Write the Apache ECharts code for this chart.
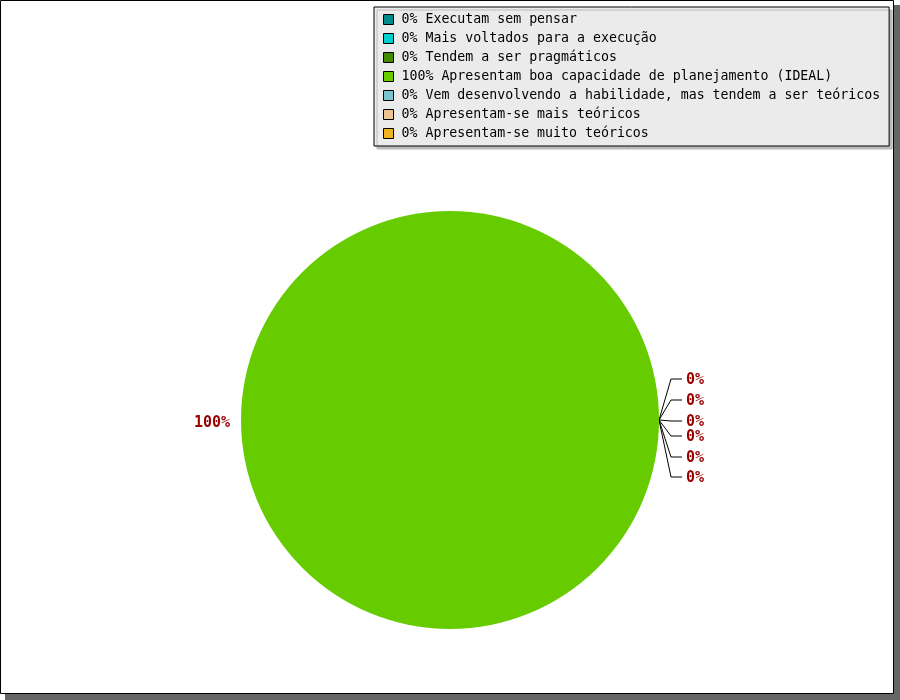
<!DOCTYPE html>
<html>
<head>
<meta charset="utf-8">
<script src="https://cdn.jsdelivr.net/npm/echarts@6/dist/echarts.min.js"></script>
<style>
html,body{margin:0;padding:0;background:#fff;}
#chart{width:900px;height:700px;}
</style>
</head>
<body>
<div id="chart"></div>
<script>
const categories = [
  'Executam sem pensar',
  'Mais voltados para a execução',
  'Tendem a ser pragmáticos',
  'Apresentam boa capacidade de planejamento (IDEAL)',
  'Vem desenvolvendo a habilidade, mas tendem a ser teóricos',
  'Apresentam-se mais teóricos',
  'Apresentam-se muito teóricos'
];
const values = [0, 0, 0, 100, 0, 0, 0];
const colors = ['#008B8B', '#00CED1', '#458B00', '#66CC00', '#7AC5CD', '#EEC591', '#EEB422'];

const total = values.reduce((a, b) => a + b, 0);
const pct = v => total ? Math.round(v / total * 100) : 0;

// vertical offsets (px) for stacked labels of zero-size slices, in order of appearance
const zeroLabelOffsets = [-41, -20, 1, 16, 37, 57];
const zeroOrder = {};
let zc = 0;
values.forEach((v, i) => { if (v === 0) zeroOrder[i] = zc++; });

const chart = echarts.init(document.getElementById('chart'), null, {renderer: 'canvas'});

const option = {
  animation: false,
  graphic: [
    {type: 'rect', z: 0, shape: {x: 5, y: 5, width: 895, height: 695}, style: {fill: '#666666'}},
    {type: 'rect', z: 1, shape: {x: 0.5, y: 0.5, width: 893, height: 693}, style: {fill: '#ffffff', stroke: '#000000', lineWidth: 1}}
  ],
  legend: {
    orient: 'vertical',
    left: 374,
    top: 7,
    padding: [3, 9, 3, 9],
    itemGap: 0,
    itemWidth: 10,
    itemHeight: 10,
    icon: 'rect',
    backgroundColor: '#EBEBEB',
    borderColor: '#000',
    borderWidth: 1,
    shadowColor: '#BBBBBB',
    shadowBlur: 0,
    shadowOffsetX: 3,
    shadowOffsetY: 3,
    selectedMode: false,
    itemStyle: {borderColor: '#000', borderWidth: 1},
    textStyle: {
      fontFamily: 'DejaVu Sans Mono',
      fontSize: 13.25,
      color: '#000',
      lineHeight: 19,
      padding: [0, 0, 0, 3]
    },
    formatter: function (name) {
      const i = categories.indexOf(name);
      return pct(values[i]) + '% ' + name;
    },
    data: categories
  },
  series: [{
    type: 'pie',
    center: [450, 420],
    radius: 209,
    startAngle: 0,
    clockwise: false,
    avoidLabelOverlap: false,
    minShowLabelAngle: 0,
    stillShowZeroSum: true,
    emphasis: {disabled: true},
    silent: true,
    label: {
      show: true,
      position: 'outside',
      fontFamily: 'DejaVu Sans Mono',
      fontWeight: 'bold',
      fontSize: 15,
      color: '#990000',
      formatter: p => pct(p.value) + '%'
    },
    labelLine: {show: true, length: 12, length2: 11, lineStyle: {color: '#000', width: 1}},
    labelLayout: function (params) {
      const i = params.dataIndex;
      const pts = params.labelLinePoints;
      const ax = pts ? pts[0][0] : params.rect.x + params.rect.width;
      const ay = pts ? pts[0][1] : params.rect.y + params.rect.height / 2;
      if (values[i] === 0) {
        const off = zeroLabelOffsets[zeroOrder[i]] || 0;
        return {
          x: ax + 27, y: ay + off + 1, align: 'left', verticalAlign: 'middle',
          labelLinePoints: [[ax, ay], [ax + 12, ay + off], [ax + 23, ay + off]]
        };
      }
      return {x: ax - 11, y: ay + 3, align: 'right', verticalAlign: 'middle'};
    },
    data: categories.map((c, i) => ({
      name: c,
      value: values[i],
      itemStyle: {color: colors[i]},
      labelLine: {show: values[i] === 0}
    }))
  }]
};
chart.setOption(option);
</script>
</body>
</html>
